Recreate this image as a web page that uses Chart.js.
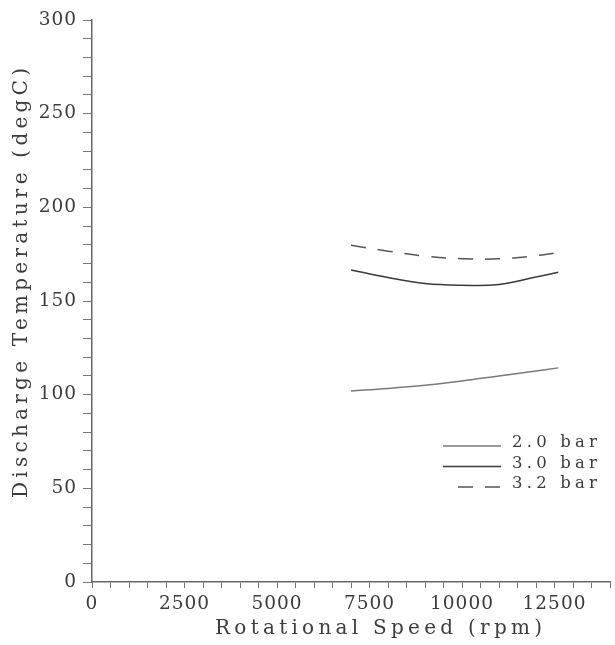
<!DOCTYPE html>
<html>
<head>
<meta charset="utf-8">
<script src="https://cdn.jsdelivr.net/npm/chart.js@4/dist/chart.umd.min.js"></script>
<style>
  html, body { margin: 0; padding: 0; background: #fff; }
  #wrap { width: 615px; height: 645px; position: relative; }
</style>
</head>
<body>
<div id="wrap"><canvas id="temp-plot"></canvas></div>
<script>
// rotational speed (rpm) and discharge temperature (degC) per pressure ratio
const speeds = [7000, 8000, 9000, 10000, 11000, 12000, 12600];
const temp20 = [102.0, 103.3, 105.0, 107.3, 110.0, 112.6, 114.3];
const temp30 = [166.6, 162.5, 159.3, 158.4, 158.8, 162.8, 165.3];
const temp32 = [179.8, 176.6, 174.0, 172.6, 172.5, 174.2, 175.8];
const seriesLabels = ['2.0 bar', '3.0 bar', '3.2 bar'];
const xMajor = 2500;
const yMajor = 50;

const FONT = 'DejaVu Serif';
const INK = '#3c3c3c';

function toPoints(ys) {
    return speeds.map((s, i) => ({ x: s, y: ys[i] }));
}

function spacedText(ctx, text, x, y, width) {
    ctx.letterSpacing = '0px';
    const w = ctx.measureText(text).width;
    ctx.letterSpacing = ((width - w) / (text.length - 1)) + 'px';
    ctx.fillText(text, x, y);
}

// axis titles and legend drawn by hand, to get the old plotter spacing
const decor = {
    id: 'decor',
    beforeDraw(chart) {
        chart.ctx.letterSpacing = '1px';
    },
    afterDraw(chart) {
        const ctx = chart.ctx;
        ctx.save();
        ctx.fillStyle = INK;
        ctx.textAlign = 'left';
        ctx.textBaseline = 'alphabetic';
        ctx.font = '20px "' + FONT + '"';
        spacedText(ctx, 'Rotational Speed (rpm)', 215, 634, 327);

        ctx.save();
        ctx.translate(27, 498);
        ctx.rotate(-Math.PI / 2);
        spacedText(ctx, 'Discharge Temperature (degC)', 0, 0, 430);
        ctx.restore();

        ctx.font = '16.5px "' + FONT + '"';
        chart.data.datasets.forEach((ds, i) => {
            const base = 447 + i * 20.5;
            ctx.save();
            ctx.strokeStyle = ds.borderColor;
            ctx.lineWidth = ds.borderWidth;
            ctx.setLineDash(ds.borderDash || []);
            ctx.beginPath();
            const x0 = ds.borderDash ? 458 : 443;
            ctx.moveTo(x0, base - 1);
            ctx.lineTo(501, base - 1);
            ctx.stroke();
            ctx.restore();
            spacedText(ctx, ds.label, 512, base, 85);
        });
        ctx.restore();
    }
};

const ctx = document.getElementById('temp-plot').getContext('2d');
const chart = new Chart(ctx, {
    type: 'line',
    data: {
        datasets: [
            {
                label: seriesLabels[0],
                data: toPoints(temp20),
                borderColor: '#7a7a7a',
                borderWidth: 1.5,
                pointRadius: 0,
                tension: 0.4,
                fill: false
            },
            {
                label: seriesLabels[1],
                data: toPoints(temp30),
                borderColor: '#3a3a3a',
                borderWidth: 1.5,
                pointRadius: 0,
                tension: 0.4,
                fill: false
            },
            {
                label: seriesLabels[2],
                data: toPoints(temp32),
                borderColor: '#555',
                borderWidth: 1.5,
                borderDash: [15, 12],
                pointRadius: 0,
                tension: 0.4,
                fill: false
            }
        ]
    },
    options: {
        responsive: true,
        maintainAspectRatio: false,
        animation: false,
        layout: { padding: { top: 20, right: 1, left: 0, bottom: 0 } },
        plugins: {
            legend: { display: false },
            tooltip: { enabled: false }
        },
        scales: {
            x: {
                type: 'linear',
                min: 0,
                max: 14000,
                afterFit: (s) => { s.height = 63; },
                ticks: {
                    stepSize: 500,
                    autoSkip: false,
                    maxRotation: 0,
                    padding: 5,
                    color: INK,
                    font: { family: FONT, size: 18.5 },
                    callback: (v) => (v % xMajor === 0 ? String(v) : '')
                },
                grid: { drawOnChartArea: false, tickLength: 6, color: '#777' },
                border: { color: '#666', width: 1.5 }
            },
            y: {
                min: 0,
                max: 300,
                afterFit: (s) => { s.width = 92; },
                ticks: {
                    stepSize: 10,
                    autoSkip: false,
                    padding: 6,
                    color: INK,
                    font: { family: FONT, size: 18.5 },
                    callback: (v) => (v % yMajor === 0 ? String(v) : '')
                },
                grid: { drawOnChartArea: false, tickLength: 9, color: '#777' },
                border: { color: '#666', width: 1.5 }
            }
        }
    },
    plugins: [decor]
});
</script>
</body>
</html>
